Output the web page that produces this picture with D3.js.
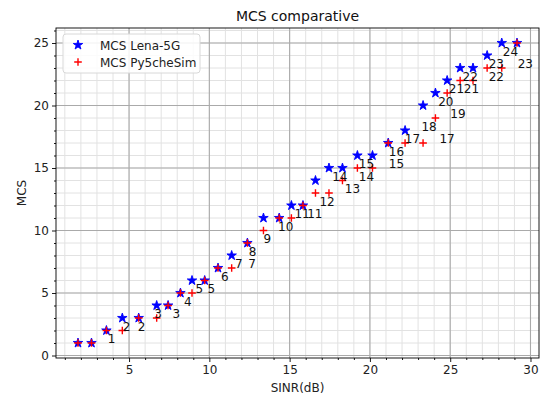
<!DOCTYPE html>
<html>
<head>
<meta charset="utf-8">
<script src="https://cdn.jsdelivr.net/npm/d3@7"></script>
<style>
body { margin: 0; background: #fff; }
svg { font-family: "DejaVu Sans", sans-serif; }
</style>
</head>
<body>
<div id="chart"></div>
<script>
// SINR (dB) where both simulators were sampled
const sinr = [1.82, 2.66, 3.59, 4.58, 5.60, 6.72, 7.43, 8.20, 8.92, 9.71, 10.54, 11.39, 12.37, 13.37, 14.35, 15.11,
  15.83, 16.61, 17.45, 18.29, 19.22, 20.16, 21.14, 22.19, 23.31, 24.08, 24.81, 25.62, 26.42, 27.30, 28.21, 29.16];
const mcsLena = [1, 1, 2, 3, 3, 4, 4, 5, 6, 6, 7, 8, 9, 11, 11, 12, 12, 14, 15, 15, 16, 16, 17, 18, 20, 21, 22, 23, 23, 24, 25, 25];
const mcsPy5 = [1, 1, 2, 2, 3, 3, 4, 5, 5, 6, 7, 7, 9, 10, 11, 11, 12, 13, 13, 14, 15, 15, 17, 17, 17, 19, 21, 22, 22, 23, 23, 25];

// text annotations (value drawn at its own sinr / mcs)
const labelSinr = [3.67, 4.60, 5.54, 6.57, 7.71, 8.42, 9.14, 9.89, 10.72, 11.59, 12.42, 12.45, 13.38, 14.28, 15.30, 16.09,
  16.86, 17.65, 18.44, 19.31, 19.31, 21.18, 21.18, 22.17, 23.21, 24.25, 24.33, 24.91, 25.01, 25.77, 25.85, 27.40, 27.40, 28.28, 29.20];
const labelMcs = [1, 2, 2, 3, 3, 4, 5, 5, 6, 7, 7, 8, 9, 10, 11, 11,
  12, 14, 13, 14, 15, 15, 16, 17, 18, 20, 17, 21, 19, 22, 21, 22, 23, 24, 23];

const xTicks = [5, 10, 15, 20, 25, 30];
const yTicks = [0, 5, 10, 15, 20, 25];
const xMinor = d3.range(1, 31);
const yMinor = d3.range(0, 27);

const w = 544, h = 399;
const pl = 56, pr = 539, pt = 28, pb = 358;

const x = d3.scaleLinear().domain([0.45, 30.53]).range([pl, pr]);
const y = d3.scaleLinear().domain([-0.2, 26.2]).range([pb, pt]);

const svg = d3.select("#chart").append("svg")
  .attr("width", w)
  .attr("height", h);

svg.append("rect").attr("width", w).attr("height", h).attr("fill", "#fff");

const plot = svg.append("g");

// minor grid
plot.append("g").selectAll("line").data(xMinor.filter(d => x(d) > pl && x(d) < pr)).enter().append("line")
  .attr("x1", d => x(d)).attr("x2", d => x(d)).attr("y1", pt).attr("y2", pb)
  .attr("stroke", "#e2e2e2").attr("stroke-width", 1);
plot.append("g").selectAll("line").data(yMinor.filter(d => y(d) > pt && y(d) < pb)).enter().append("line")
  .attr("y1", d => y(d)).attr("y2", d => y(d)).attr("x1", pl).attr("x2", pr)
  .attr("stroke", "#e2e2e2").attr("stroke-width", 1);

// major grid
plot.append("g").selectAll("line").data(xTicks).enter().append("line")
  .attr("x1", d => x(d)).attr("x2", d => x(d)).attr("y1", pt).attr("y2", pb)
  .attr("stroke", "#aaaaaa").attr("stroke-width", 1.1);
plot.append("g").selectAll("line").data(yTicks).enter().append("line")
  .attr("y1", d => y(d)).attr("y2", d => y(d)).attr("x1", pl).attr("x2", pr)
  .attr("stroke", "#aaaaaa").attr("stroke-width", 1.1);

// axes
const xAxis = d3.axisBottom(x).tickValues(xTicks).tickSize(4).tickPadding(3);
const yAxis = d3.axisLeft(y).tickValues(yTicks).tickSize(4).tickPadding(3);
const xAxisMinor = d3.axisBottom(x).tickValues(xMinor.filter(d => !xTicks.includes(d))).tickSize(2).tickFormat("");
const yAxisMinor = d3.axisLeft(y).tickValues(yMinor.filter(d => !yTicks.includes(d))).tickSize(2).tickFormat("");

function styleAxis(g) {
  g.select(".domain").remove();
  g.selectAll("line").attr("stroke", "#000").attr("stroke-width", 0.9);
  g.selectAll("text").attr("font-size", "12px").attr("fill", "#222").attr("font-family", "DejaVu Sans");
}

svg.append("g").attr("transform", `translate(0,${pb})`).call(xAxis).call(styleAxis);
svg.append("g").attr("transform", `translate(0,${pb})`).call(xAxisMinor).call(styleAxis);
svg.append("g").attr("transform", `translate(${pl},0)`).call(yAxis).call(styleAxis);
svg.append("g").attr("transform", `translate(${pl},0)`).call(yAxisMinor).call(styleAxis);

// frame
svg.append("rect")
  .attr("x", pl).attr("y", pt).attr("width", pr - pl).attr("height", pb - pt)
  .attr("fill", "none").attr("stroke", "#000").attr("stroke-width", 0.9);

// Lena-5G stars
const star = d3.symbol().type(d3.symbolStar).size(28);
plot.append("g").selectAll("path").data(sinr).enter().append("path")
  .attr("d", star)
  .attr("transform", (d, i) => `translate(${x(d)},${y(mcsLena[i])})`)
  .attr("fill", "#0000ff").attr("stroke", "#0000ff").attr("stroke-width", 0.9);

// Py5cheSim plus
const plus = "M-3.8,0H3.8M0,-3.8V3.8";
plot.append("g").selectAll("path").data(sinr).enter().append("path")
  .attr("d", plus)
  .attr("transform", (d, i) => `translate(${x(d)},${y(mcsPy5[i])})`)
  .attr("fill", "none").attr("stroke", "#ff0000").attr("stroke-width", 1.4);

// annotations
plot.append("g").selectAll("text").data(labelSinr).enter().append("text")
  .attr("x", d => x(d))
  .attr("y", (d, i) => y(labelMcs[i]))
  .attr("font-size", "12px").attr("fill", "#111")
  .text((d, i) => labelMcs[i]);

// title and axis labels
svg.append("text").attr("x", (pl + pr) / 2).attr("y", 21)
  .attr("text-anchor", "middle").attr("font-size", "14px").attr("fill", "#111")
  .text("MCS comparative");
svg.append("text").attr("x", (pl + pr) / 2).attr("y", 392)
  .attr("text-anchor", "middle").attr("font-size", "12px").attr("fill", "#222")
  .text("SINR(dB)");
svg.append("text")
  .attr("transform", `translate(26,${(pt + pb) / 2}) rotate(-90)`)
  .attr("text-anchor", "middle").attr("font-size", "12px").attr("fill", "#222")
  .text("MCS");

// legend
const lg = svg.append("g").attr("transform", "translate(63,34)");
lg.append("rect").attr("width", 137).attr("height", 39).attr("rx", 3)
  .attr("fill", "#fff").attr("fill-opacity", 0.85).attr("stroke", "#d8d8d8");
lg.append("path").attr("d", star).attr("transform", "translate(15,11)")
  .attr("fill", "#0000ff").attr("stroke", "#0000ff").attr("stroke-width", 0.9);
lg.append("path").attr("d", plus).attr("transform", "translate(15,28)")
  .attr("fill", "none").attr("stroke", "#ff0000").attr("stroke-width", 1.4);
lg.append("text").attr("x", 37).attr("y", 15.5).attr("font-size", "12px").attr("fill", "#222").text("MCS Lena-5G");
lg.append("text").attr("x", 37).attr("y", 32.5).attr("font-size", "12px").attr("fill", "#222").text("MCS Py5cheSim");
</script>
</body>
</html>
